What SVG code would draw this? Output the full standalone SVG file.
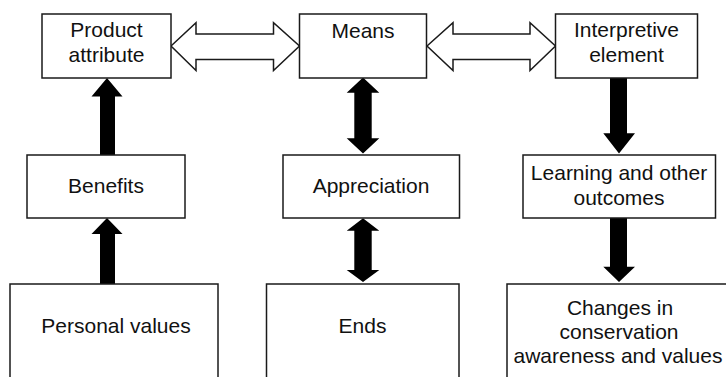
<svg xmlns="http://www.w3.org/2000/svg" width="726" height="377" viewBox="0 0 726 377">
<style>
.box{fill:#fff;stroke:#1a1a1a;stroke-width:1.5}
.t{font-family:"Liberation Sans",Arial,Helvetica,sans-serif;font-size:21px;fill:#111;text-anchor:middle}
.solid{fill:#000;stroke:none}
.hollow{fill:#fff;stroke:#1a1a1a;stroke-width:1.5;stroke-linejoin:miter}
</style>
<rect x="0" y="0" width="726" height="377" fill="#fff"/>
<g id="connectors">
<polygon class="hollow" points="171,46 196,22.7 196,34 273.5,34 273.5,22.7 299.5,46 273.5,70.5 273.5,59.5 196,59.5 196,70.5"/>
<polygon class="hollow" points="427,46 453,22.7 453,34 530,34 530,22.7 555.5,46 530,70.5 530,59.5 453,59.5 453,70.5"/>
<polygon class="solid" points="107,78 122.5,96.5 115,96.5 115,155 100,155 100,96.5 91.5,96.5"/>
<polygon class="solid" points="107,218 122.5,234 115,234 115,284 100,284 100,234 91.5,234"/>
<polygon class="solid" points="363,77.5 379.3,92.7 371.7,92.7 371.7,138.3 379.3,138.3 363,153.5 346.7,138.3 354.3,138.3 354.3,92.7 346.7,92.7"/>
<polygon class="solid" points="363,218.3 379.3,230.7 371.7,230.7 371.7,270 379.3,270 363,282 346.7,270 354.3,270 354.3,230.7 346.7,230.7"/>
<polygon class="solid" points="610,78 627,78 627,133.3 635,133.3 619,153.5 603.3,133.3 610,133.3"/>
<polygon class="solid" points="610,218 627,218 627,266.7 635,266.7 619,282 603.3,266.7 610,266.7"/>
</g>
<g id="product-attribute">
<rect class="box" x="42" y="14" width="129" height="64"/>
<text class="t" x="106.5" y="37">Product</text>
<text class="t" x="106.5" y="62">attribute</text>
</g>
<g id="means">
<rect class="box" x="299.5" y="14" width="127" height="64"/>
<text class="t" x="363" y="38">Means</text>
</g>
<g id="interpretive-element">
<rect class="box" x="555.5" y="14" width="142" height="64"/>
<text class="t" x="626.5" y="37">Interpretive</text>
<text class="t" x="626.5" y="62">element</text>
</g>
<g id="benefits">
<rect class="box" x="27" y="155" width="158" height="63"/>
<text class="t" x="106" y="193">Benefits</text>
</g>
<g id="appreciation">
<rect class="box" x="283" y="155" width="176.5" height="63"/>
<text class="t" x="371" y="193">Appreciation</text>
</g>
<g id="learning">
<rect class="box" x="523" y="155" width="192.5" height="63"/>
<text class="t" x="619" y="180">Learning and other</text>
<text class="t" x="619" y="205">outcomes</text>
</g>
<g id="personal-values">
<rect class="box" x="10" y="284" width="208" height="100"/>
<text class="t" x="116" y="333">Personal values</text>
</g>
<g id="ends">
<rect class="box" x="266.5" y="284" width="192.5" height="100"/>
<text class="t" x="362.5" y="333">Ends</text>
</g>
<g id="changes">
<rect class="box" x="507" y="284" width="225" height="100"/>
<text class="t" x="620" y="315">Changes in</text>
<text class="t" x="619" y="339">conservation</text>
<text class="t" x="618" y="363">awareness and values</text>
</g>
</svg>
